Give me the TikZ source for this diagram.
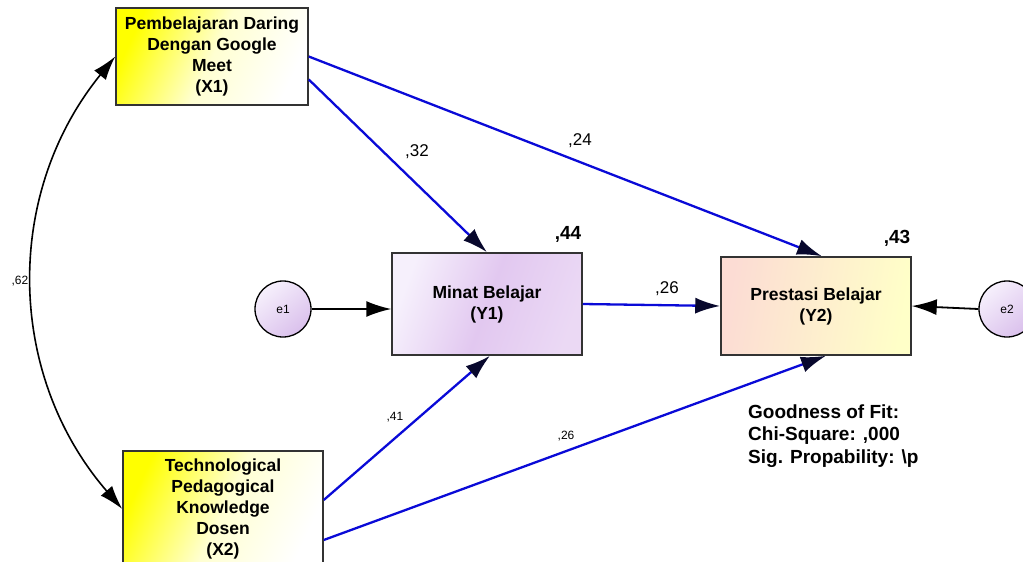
\documentclass[tikz,border=0pt]{standalone}
\usepackage{fontspec}
\setmainfont{Liberation Sans}
\usetikzlibrary{arrows.meta, positioning, calc}

\definecolor{pathblue}{RGB}{10,10,215}
\definecolor{tipnavy}{RGB}{8,8,45}
\definecolor{lavdark}{RGB}{226,200,240}
\definecolor{lavlight}{RGB}{246,240,252}
\definecolor{rosy}{RGB}{252,220,212}
\definecolor{cream}{RGB}{255,255,200}
\definecolor{errfill}{RGB}{218,192,236}

\begin{document}
\begin{tikzpicture}[x=1pt, y=1pt,
        varbox/.style={draw=black!80, line width=1.5pt, align=center,
            font=\fontsize{17.5}{21}\selectfont\bfseries},
        exobox/.style={varbox, left color=yellow, right color=white,
            middle color=yellow!18, shading angle=65},
        errnode/.style={circle, draw=black, line width=1.3pt, minimum size=56pt,
            top color=lavlight, bottom color=errfill, shading angle=40,
            font=\fontsize{12}{14}\selectfont},
        pathline/.style={draw=pathblue, line width=2.3pt,
            -{Latex[length=25pt, width=16pt, color=tipnavy]}},
        errline/.style={draw=black, line width=1.8pt,
            -{Latex[length=25pt, width=16pt]}},
        coef/.style={font=\fontsize{17}{20}\selectfont},
        coefsmall/.style={font=\fontsize{12}{14}\selectfont},
        rsq/.style={font=\fontsize{19}{22}\selectfont\bfseries}]

        \useasboundingbox (0,0) rectangle (1023,-562);

        % variables
        \node[exobox, minimum width=192pt, minimum height=97pt] (X1) at (212,-56.5)
            {Pembelajaran Daring\\Dengan Google\\Meet\\(X1)};
        \node[exobox, minimum width=200pt, minimum height=116pt] (X2) at (223,-509)
            {Technological\\Pedagogical\\Knowledge\\Dosen\\(X2)};
        \node[varbox, minimum width=190pt, minimum height=102pt,
            left color=lavlight, right color=lavdark!70!white,
            middle color=lavdark, shading angle=70] (Y1) at (487,-304)
            {Minat Belajar\\(Y1)};
        \node[varbox, minimum width=190pt, minimum height=98pt,
            left color=rosy, right color=cream, shading angle=80] (Y2) at (816,-306)
            {Prestasi Belajar\\(Y2)};

        % errors
        \node[errnode] (e1) at (283,-309) {e1};
        \node[errnode] (e2) at (1007,-309) {e2};

        % paths
        \draw[pathline] ([yshift=-23pt]X1.east) -- (Y1.north);
        \draw[pathline] (X1.east) -- ([xshift=6pt]Y2.north);
        \draw[pathline] (Y1.east) -- (Y2.west);
        \draw[pathline] ([yshift=9pt]X2.east) -- ([xshift=3pt]Y1.south);
        \draw[pathline] ([yshift=-31pt]X2.east) -- ([xshift=10pt]Y2.south);
        \draw[errline] (e1.east) -- (e1 -| Y1.west);
        \draw[errline] (e2.west) -- (Y2.east);

        % covariance
        \draw[line width=1.6pt, {Latex[length=24pt, width=15pt]}-{Latex[length=24pt, width=15pt]}]
            (X1.west) to[bend right=40] (X2.west);

        % coefficients
        \node[coef] (c32) at (417,-152) {,32};
        \node[coef] (c24) at (580,-141) {,24};
        \node[coef] (c26a) at (667,-289) {,26};
        \node[coefsmall] (c41) at (395,-417) {,41};
        \node[coefsmall] (c26b) at (566,-436) {,26};
        \node[coefsmall] (c62) at (20,-281) {,62};
        \node[rsq] (r44) at (568,-234) {,44};
        \node[rsq] (r43) at (897,-238) {,43};

        % fit
        \node[anchor=west, align=left, inner sep=0pt,
            font=\fontsize{19}{22.5}\selectfont\bfseries] (fit) at (748,-436)
            {Goodness of Fit:\\Chi-Square: ,000\\Sig. Propability: \textbackslash p};

    \end{tikzpicture}
\end{document}
